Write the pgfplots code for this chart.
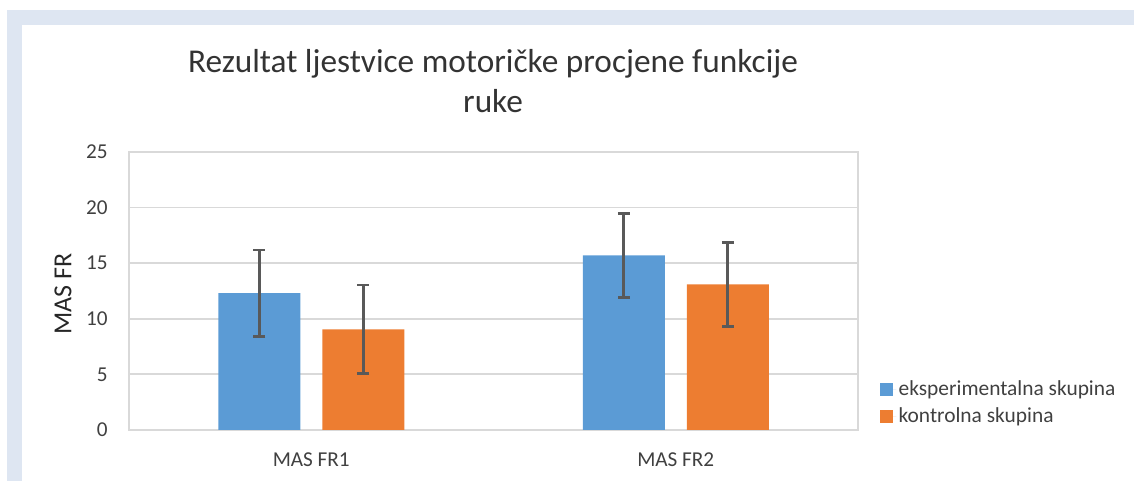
\documentclass[border=0pt]{standalone}
\usepackage{fontspec}
\setmainfont{Carlito}
\usepackage{pgfplots}
\pgfplotsset{compat=1.18}
\definecolor{band}{RGB}{222,230,242}
\definecolor{cblue}{RGB}{91,155,213}
\definecolor{corange}{RGB}{237,125,49}
\definecolor{gridc}{RGB}{217,217,217}
\definecolor{errc}{RGB}{89,89,89}
\definecolor{txt}{RGB}{64,64,64}
\begin{document}
\begin{tikzpicture}
\path[use as bounding box] (0,0) rectangle (567pt,240.5pt);
\fill[band] (3.5pt,228pt) rectangle (567pt,235.5pt);
\fill[band] (3.5pt,0pt) rectangle (11pt,235.5pt);
\node[anchor=base, text=black!80, font=\fontsize{16.65pt}{20pt}\selectfont, inner sep=0pt] at (246.5pt,204pt) {Rezultat ljestvice motoričke procjene funkcije};
\node[anchor=base, text=black!80, font=\fontsize{16.65pt}{20pt}\selectfont, inner sep=0pt] at (246.5pt,184pt) {ruke};
\begin{axis}[
  at={(64.5pt,25.5pt)}, anchor=south west,
  scale only axis, width=364.5pt, height=139pt,
  ybar=11pt, bar width=41pt,
  xmin=-0.5, xmax=1.5, ymin=0, ymax=25,
  xtick={0,1}, xticklabels={MAS FR1, MAS FR2},
  ytick={0,5,10,15,20,25},
  major tick length=0pt,
  /pgf/number format/assume math mode=true,
  ymajorgrids=true, xmajorgrids=false,
  major grid style={gridc, line width=0.9pt},
  axis line style={gridc, line width=0.9pt},
  tick label style={text=txt, font=\fontsize{10.6pt}{12.7pt}\selectfont, inner sep=0pt},
  yticklabel style={xshift=-10.5pt},
  xticklabel style={yshift=-11pt},
  ylabel={MAS FR},
  ylabel style={at={(-0.0782,0.49)}, anchor=south, inner sep=0pt, font=\fontsize{13pt}{15pt}\selectfont, text=black!85},
  legend style={at={(1.030,0.097)}, anchor=west, draw=none, fill=none, inner sep=0pt,
    font=\fontsize{10.7pt}{12.8pt}\selectfont, text=txt, row sep=2pt,
    nodes={inner sep=1.2pt}},
  legend cell align=left,
  legend image code/.code={\fill[#1,draw=none] (0pt,-3.25pt) rectangle (6.5pt,3.25pt); \path (0pt,0pt) -- (8pt,0pt);},
  error bars/error bar style={errc, line width=1.35pt},
  error bars/error mark options={errc, line width=1.35pt, mark size=3pt, rotate=90},
]
\addplot[fill=cblue, draw=none, error bars/.cd, y dir=both, y explicit]
  coordinates {(0,12.3) +- (0,3.9) (1,15.7) +- (0,3.8)};
\addplot[fill=corange, draw=none, error bars/.cd, y dir=both, y explicit]
  coordinates {(0,9.05) +- (0,4.0) (1,13.1) +- (0,3.78)};
\legend{eksperimentalna skupina, kontrolna skupina}
\end{axis}
\end{tikzpicture}
\end{document}
